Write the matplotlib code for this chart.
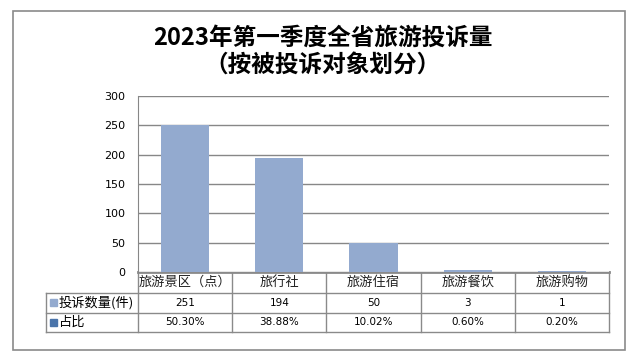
import matplotlib
matplotlib.use('Agg')
import matplotlib.pyplot as plt
from matplotlib.patches import Rectangle

plt.rcParams['font.family'] = ['Noto Sans CJK SC', 'DejaVu Sans']

categories = ['旅游景区（点）', '旅行社', '旅游住宿', '旅游餐饮', '旅游购物']
counts = [251, 194, 50, 3, 1]
shares = ['50.30%', '38.88%', '10.02%', '0.60%', '0.20%']
row_names = ['投诉数量(件)', '占比']
yticks = [0, 50, 100, 150, 200, 250, 300]
title = '2023年第一季度全省旅游投诉量\n（按被投诉对象划分）'

bar_color = '#93AACF'
key2_color = '#4A74AA'
grid_color = '#878787'

W, H = 637, 360
fig = plt.figure(figsize=(W / 100, H / 100), dpi=100)

# pixel overlay for border, title, table
pax = fig.add_axes([0, 0, 1, 1])
pax.set_xlim(0, W)
pax.set_ylim(H, 0)
pax.axis('off')
pax.add_patch(Rectangle((13, 11), 612, 339, fill=False, ec='#8a8a8a', lw=1.2))
pax.text(323, 38, title.split('\n')[0], ha='center', va='center',
         fontsize=17, fontweight='bold')
pax.text(323, 65, title.split('\n')[1], ha='center', va='center',
         fontsize=17, fontweight='bold')

# plot area
x0, x1, ytop, ybot = 138, 609, 96, 272
ax = fig.add_axes([x0 / W, 1 - ybot / H, (x1 - x0) / W, (ybot - ytop) / H])
ax.bar(range(len(counts)), counts, width=0.51, color=bar_color, zorder=3)
ax.set_xlim(-0.5, len(counts) - 0.5)
ax.set_ylim(0, 300)
ax.set_yticks(yticks)
ax.set_yticklabels([str(v) for v in yticks], fontsize=8, family='DejaVu Sans')
ax.tick_params(axis='y', length=0, pad=9)
ax.set_xticks([])
ax.grid(axis='y', color=grid_color, lw=1, zorder=0)
for s in ['top', 'right', 'bottom']:
    ax.spines[s].set_visible(False)
ax.spines['left'].set_color(grid_color)

# data table
n = len(categories)
colw = (x1 - x0) / n
rows_y = [272, 292.5, 312.5, 332]
tleft = 46
lc = '#8a8a8a'
pax.plot([x0, x1], [rows_y[0], rows_y[0]], color=lc, lw=2)
for r in range(1, 4):
    pax.plot([tleft, x1], [rows_y[r], rows_y[r]], color=lc, lw=1)
pax.plot([tleft, tleft], [rows_y[1], rows_y[3]], color=lc, lw=1)
for i in range(n + 1):
    xx = x0 + i * colw
    pax.plot([xx, xx], [rows_y[0], rows_y[3]], color=lc, lw=1)

for i, c in enumerate(categories):
    xc = x0 + (i + 0.5) * colw
    pax.text(xc, (rows_y[0] + rows_y[1]) / 2, c, ha='center', va='center',
             fontsize=9.5, color='#222222')
    pax.text(xc, (rows_y[1] + rows_y[2]) / 2, str(counts[i]), ha='center',
             va='center', fontsize=7.5, family='DejaVu Sans')
    pax.text(xc, (rows_y[2] + rows_y[3]) / 2, shares[i], ha='center',
             va='center', fontsize=7.5, family='DejaVu Sans')

for r, (name, col) in enumerate(zip(row_names, [bar_color, key2_color])):
    yc = (rows_y[r + 1] + rows_y[r + 2]) / 2
    pax.add_patch(Rectangle((49.5, yc - 3.5), 7, 7, color=col))
    pax.text(59, yc, name, ha='left', va='center', fontsize=9.5)

fig.savefig('out.png', dpi=100)
